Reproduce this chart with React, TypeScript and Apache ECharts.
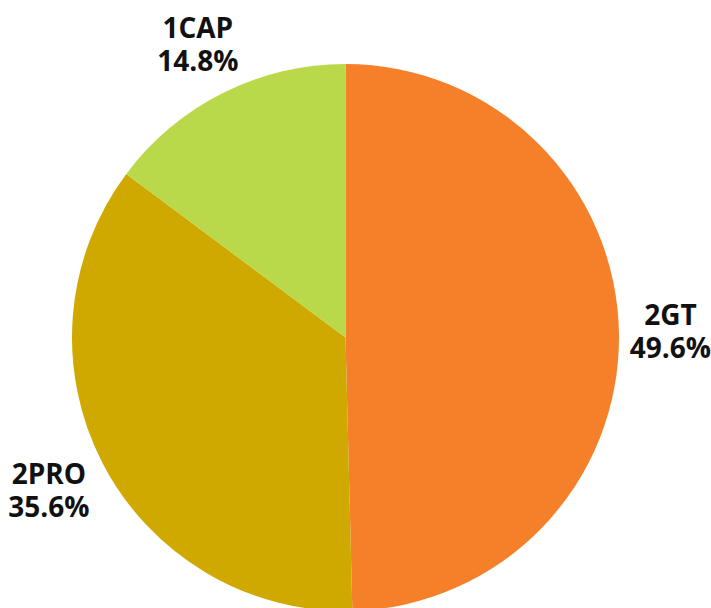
import React, { useEffect, useRef } from "react";
import * as echarts from "echarts";

const categories = ["2GT", "2PRO", "1CAP"];
const values = [49.6, 35.6, 14.8];
const colors = ["#F58029", "#CFA800", "#BAD94A"];
// small per-label nudges (px) applied through ECharts labelLayout
const labelNudgeX = [0, -8, -2];
const labelNudgeY = [-3, 3, -4];

export default function App() {
  const ref = useRef<HTMLDivElement>(null);
  useEffect(() => {
    if (!ref.current) return;
    const chart = echarts.init(ref.current, undefined, { renderer: "svg" });
    const data = categories.map((name, i) => ({
      name,
      value: values[i],
      itemStyle: { color: colors[i] },
    }));
    chart.setOption({
      animation: false,
      series: [
        {
          type: "pie",
          center: [345.5, 337.5],
          radius: [0, 273.5],
          startAngle: 90,
          clockwise: true,
          label: { show: false },
          labelLine: { show: false },
          silent: true,
          data,
        },
        {
          type: "pie",
          center: [345.5, 337.5],
          radius: [312, 332],
          startAngle: 90,
          clockwise: true,
          silent: true,
          itemStyle: { color: "transparent" },
          labelLine: { show: false },
          labelLayout: (p: any) => ({ dx: labelNudgeX[p.dataIndex], dy: labelNudgeY[p.dataIndex] }),
          label: {
            show: true,
            position: "inside",
            formatter: (p: any) => `${p.name}\n${p.value.toFixed(1)}%`,
            fontFamily: "Open Sans",
            fontWeight: "bold",
            fontSize: 28,
            lineHeight: 33,
            color: "#111111",
            align: "center",
          },
          data: categories.map((name, i) => ({ name, value: values[i] })),
        },
      ],
    });
    return () => chart.dispose();
  }, []);
  return (
    <div
      ref={ref}
      style={{ position: "fixed", left: 0, top: 0, width: 711, height: 608, background: "#fff" }}
    />
  );
}
